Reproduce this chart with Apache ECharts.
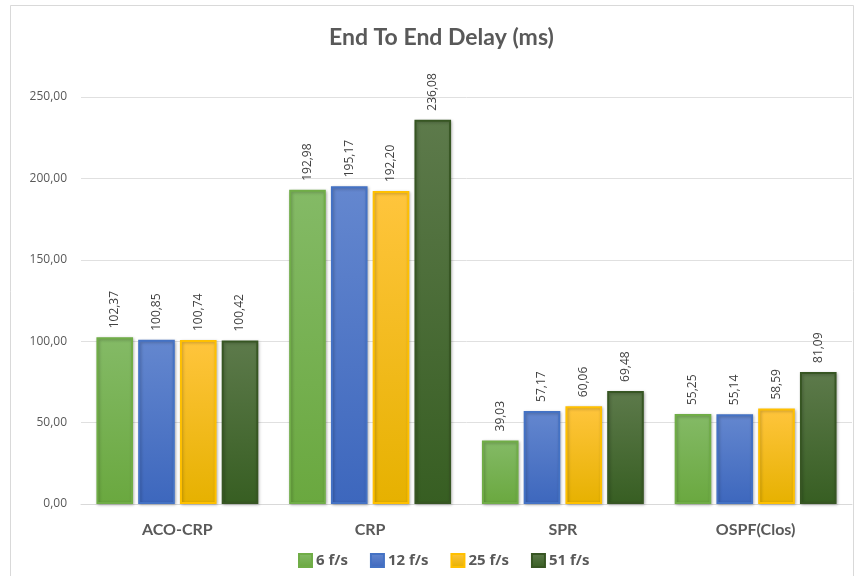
<!DOCTYPE html>
<html><head><meta charset="utf-8">
<script src="https://cdn.jsdelivr.net/npm/echarts@6/dist/echarts.min.js"></script>
<style>html,body{margin:0;padding:0;background:#fff}#c{width:856px;height:576px}</style>
</head><body><div id="c"></div>
<script>
const categories = ['ACO-CRP', 'CRP', 'SPR', 'OSPF(Clos)'];
const seriesNames = ['6 f/s', '12 f/s', '25 f/s', '51 f/s'];
const s6 = [102.37, 192.98, 39.03, 55.25];
const s12 = [100.85, 195.17, 57.17, 55.14];
const s25 = [100.74, 192.20, 60.06, 58.59];
const s51 = [100.42, 236.08, 69.48, 81.09];
const yTicks = [0, 50, 100, 150, 200, 250];

const palette = [
  {top:'#84ba66', bottom:'#6aa83f', border:'#70ad47'},
  {top:'#6487cf', bottom:'#3d67bd', border:'#4472c4'},
  {top:'#ffc53d', bottom:'#e6b100', border:'#ffc000'},
  {top:'#5d7a4b', bottom:'#375e22', border:'#375623'}
];
const fmt = v => v.toFixed(2).replace('.', ',');
const FONT = 'Lato, "Open Sans", sans-serif';
const chart = echarts.init(document.getElementById('c'));
const allData = [s6, s12, s25, s51];
chart.setOption({
  animation: false,
  backgroundColor: '#fff',
  graphic: [{type:'rect', shape:{x:10.5, y:5.5, width:843, height:600}, style:{fill:'none', stroke:'#d9d9d9', lineWidth:1}, silent:true}],
  title: {text:'End To End Delay (ms)', left:324, top:21, textStyle:{fontFamily:FONT, fontSize:23, fontWeight:'bold', color:'#595959'}},
  legend: {bottom:3, left:293, itemWidth:13, itemHeight:13, itemGap:22, icon:'rect',
    textStyle:{fontFamily:'"Open Sans", sans-serif', fontSize:15, fontWeight:'bold', color:'#595959', padding:[0,0,0,-1]}, data: seriesNames},
  grid: {left:81, right:4, top:97, bottom:72},
  xAxis: {type:'category', data:categories,
    axisLine:{lineStyle:{color:'#d9d9d9'}}, axisTick:{show:false},
    axisLabel:{fontFamily:FONT, fontSize:16, fontWeight:'bold', color:'#595959', margin:18}},
  yAxis: {type:'value', min:yTicks[0], max:yTicks[yTicks.length-1], interval:50,
    axisLine:{show:false}, axisTick:{show:false},
    splitLine:{lineStyle:{color:'#e0e0e0'}},
    axisLabel:{formatter: v => fmt(v), fontFamily:'"Open Sans", sans-serif', fontSize:12, color:'#595959', margin:14}},
  series: seriesNames.map((n, i) => ({
    name:n, type:'bar', data:allData[i], barGap:'14%', barCategoryGap:'16%',
    itemStyle:{color:new echarts.graphic.LinearGradient(0,0,0,1,[{offset:0,color:palette[i].top},{offset:1,color:palette[i].bottom}]),
      borderColor:palette[i].border, borderWidth:2, shadowColor:'rgba(0,0,0,0.25)', shadowBlur:3, shadowOffsetX:1, shadowOffsetY:1},
    label:{show:true, position:'top', rotate:90, align:'left', verticalAlign:'middle', distance:9,
      formatter: p => fmt(p.value), fontFamily:'"Open Sans", sans-serif', fontSize:12, color:'#404040'}
  }))
});
</script></body></html>
